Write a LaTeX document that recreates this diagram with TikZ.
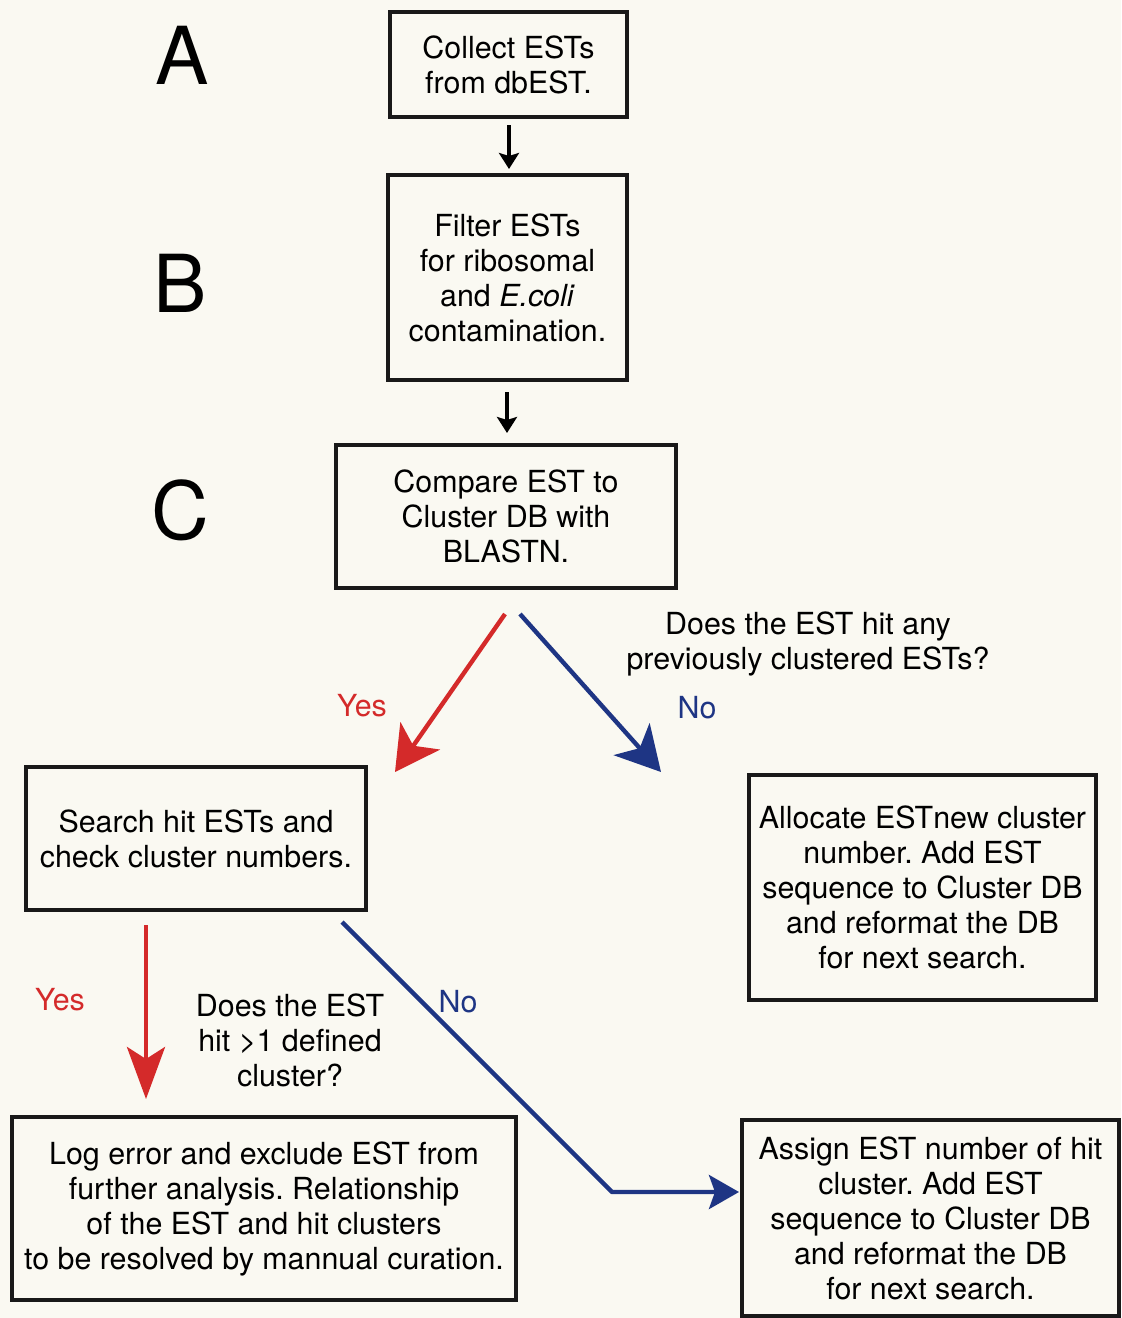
\documentclass[tikz,border=0pt]{standalone}
\usepackage{fontspec}
\setmainfont{TeX Gyre Heros}
\usetikzlibrary{arrows.meta}
\frenchspacing
\definecolor{paper}{HTML}{FAF9F2}
\definecolor{yesred}{HTML}{D42A2A}
\definecolor{nonavy}{HTML}{1E3584}
\tikzset{
  box/.style={draw=black!90, line width=2pt, align=center, inner sep=0pt,
    font=\fontsize{15.2}{17.5}\selectfont},
  steplabel/.style={font=\fontsize{40}{40}\selectfont},
  question/.style={align=center, font=\fontsize{15.2}{17.5}\selectfont},
  answer/.style={font=\fontsize{15.2}{17.5}\selectfont},
  flow/.style={line width=2pt, -{Stealth[length=8pt,width=10pt,inset=1.5pt]}},
  yesarrow/.style={yesred, line width=2.2pt, -{Stealth[length=22pt,width=24pt,inset=6pt]}},
  noarrow/.style={nonavy, line width=2.2pt, -{Stealth[length=22pt,width=24pt,inset=6pt]}},
}
\begin{document}
\begin{tikzpicture}[x=0.5pt,y=-0.5pt]
  % paper
  \fill[paper] (0,0) rectangle (1121,1318);
  \useasboundingbox (0,0) rectangle (1121,1318);

  % step letters
  \node[steplabel] (lA) at (182,55) {A};
  \node[steplabel] (lB) at (180,283) {B};
  \node[steplabel] (lC) at (180,510) {C};

  % process boxes
  \node[box, minimum width=118.5pt, minimum height=52.5pt] (collect) at (508.5,64.5)
    {Collect ESTs\\from dbEST.};
  \node[box, minimum width=119.5pt, minimum height=102.5pt] (filter) at (507.5,277.5)
    {Filter ESTs\\for ribosomal\\and \textit{E.coli}\\contamination.};
  \node[box, minimum width=170pt, minimum height=71.5pt] (compare) at (506,516.5)
    {Compare EST to\\Cluster DB with\\BLASTN.};
  \node[box, minimum width=170pt, minimum height=71.5pt] (search) at (196,838.5)
    {Search hit ESTs and\\check cluster numbers.};
  \node[box, minimum width=173.5pt, minimum height=112.5pt] (alloc) at (922.5,887.5)
    {Allocate ESTnew cluster\\number. Add EST\\sequence to Cluster DB\\and reformat the DB\\for next search.};
  \node[box, minimum width=252pt, minimum height=91.5pt] (logerr) at (264,1208.5)
    {Log error and exclude EST from\\further analysis. Relationship\\of the EST and hit clusters\\to be resolved by mannual curation.};
  \node[box, minimum width=188.5pt, minimum height=98pt] (assign) at (930.5,1218)
    {Assign EST number of hit\\cluster. Add EST\\sequence to Cluster DB\\and reformat the DB\\for next search.};

  % questions and answers
  \node[question] (q1) at (808,644) {Does the EST hit any\\previously clustered ESTs?};
  \node[question] (q2) at (290,1040) {Does the EST\\hit >1 defined\\cluster?};
  \node[answer, text=yesred] (yes1) at (362,706) {Yes};
  \node[answer, text=nonavy] (no1) at (697,708) {No};
  \node[answer, text=yesred] (yes2) at (60,1000) {Yes};
  \node[answer, text=nonavy] (no2) at (458,1002) {No};

  % arrow ends
  \coordinate (ab1) at (509,125);  \coordinate (ab2) at (509,169);
  \coordinate (bc1) at (507,392);  \coordinate (bc2) at (507,433);
  \coordinate (y1s) at (505,614);  \coordinate (y1e) at (395,772);
  \coordinate (n1s) at (520,614);  \coordinate (n1e) at (661,772);
  \coordinate (y2s) at (146,925);  \coordinate (y2e) at (146,1099);
  \coordinate (n2s) at (342,922);  \coordinate (n2k) at (612,1192);
  \coordinate (n2e) at (739,1192);

  % main flow
  \draw[flow] (ab1) -- (ab2);
  \draw[flow] (bc1) -- (bc2);

  % decision branches
  \draw[yesarrow] (y1s) -- (y1e);
  \draw[noarrow] (n1s) -- (n1e);
  \draw[yesarrow, -{Stealth[length=26pt,width=19pt,inset=6pt]}] (y2s) -- (y2e);
  \draw[noarrow, -{Stealth[length=15pt,width=17pt,inset=3pt]}, line join=round]
    (n2s) -- (n2k) -- (n2e);
\end{tikzpicture}
\end{document}
